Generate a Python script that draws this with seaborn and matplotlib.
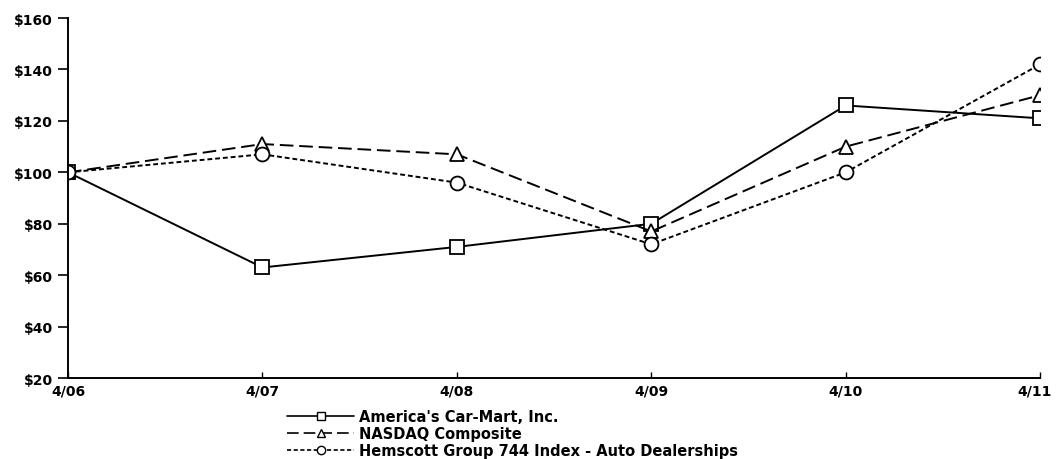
import matplotlib
matplotlib.use("Agg")
import matplotlib.pyplot as plt
import matplotlib.transforms as mtransforms
import seaborn as sns
import pandas as pd
from matplotlib.lines import Line2D

periods = ["4/06", "4/07", "4/08", "4/09", "4/10", "4/11"]
carmart = [100, 63, 71, 80, 126, 121]
nasdaq = [100, 111, 107, 77, 110, 130]
hemscott = [100, 107, 96, 72, 100, 142]
series_names = ["America's Car-Mart, Inc.", "NASDAQ Composite",
                "Hemscott Group 744 Index - Auto Dealerships"]
yticks = [20, 40, 60, 80, 100, 120, 140, 160]

rows = []
for name, vals in zip(series_names, [carmart, nasdaq, hemscott]):
    for i, v in enumerate(vals):
        rows.append({"pos": i, "value": v, "series": name})
df = pd.DataFrame(rows)

sns.set_theme(style="white")
plt.rcParams["font.family"] = ["DejaVu Sans"]
plt.rcParams["text.color"] = "black"
plt.rcParams["xtick.color"] = "black"
plt.rcParams["ytick.color"] = "black"
plt.rcParams["axes.labelcolor"] = "black"

fig = plt.figure(figsize=(10.56, 4.6), dpi=100)
ax = fig.add_axes([0.0644, 0.176, 0.9206, 0.7826])

markers = {series_names[0]: "s", series_names[1]: "^", series_names[2]: "o"}
dashes = {series_names[0]: "", series_names[1]: (7, 3), series_names[2]: (2.5, 1.5)}
sns.lineplot(data=df, x="pos", y="value", hue="series", style="series",
             palette=["black"] * 3, markers=markers, dashes=dashes,
             markersize=10, linewidth=1.4, legend=False, ax=ax,
             hue_order=series_names, style_order=series_names)

for ln in ax.lines:
    ln.set_markerfacecolor("white")
    ln.set_markeredgecolor("black")
    ln.set_markeredgewidth(1.3)

ax.set_xlim(0, 5)
ax.set_ylim(20, 160)
ax.set_xticks(range(len(periods)))
ax.set_xticklabels(periods, fontweight="bold", fontsize=10, color="black")
ax.set_yticks(yticks)
ax.set_yticklabels([f"${t}" for t in yticks], fontweight="bold", fontsize=10, color="black")
ax.set_xlabel("")
ax.set_ylabel("")
for s in ["top", "right"]:
    ax.spines[s].set_visible(False)
for s in ["left", "bottom"]:
    ax.spines[s].set_color("black")
    ax.spines[s].set_linewidth(1.4)
ax.tick_params(axis="y", direction="out", length=7, width=1.2, color="black", pad=4, left=True)
ax.tick_params(axis="x", direction="in", length=4, width=1.0, color="black", pad=4, bottom=True)

# nudge the last x label left so it stays inside the figure
last = ax.get_xticklabels()[-1]
last.set_transform(last.get_transform() +
                   mtransforms.ScaledTranslation(-6 / 100, 0, fig.dpi_scale_trans))

handles = []
for name in series_names:
    handles.append(Line2D([0], [0], color="black", linewidth=1.2,
                          linestyle="-" if dashes[name] == "" else (0, dashes[name]),
                          marker=markers[name], markersize=6,
                          markerfacecolor="white", markeredgecolor="black"))
fig.legend(handles, series_names, loc="upper left", bbox_to_anchor=(0.265, 0.124),
           frameon=False, handlelength=4.6, handletextpad=0.3,
           labelspacing=0.14, borderpad=0, prop={"weight": "bold", "size": 10.5})

fig.savefig("out.png", dpi=100, facecolor="white")
